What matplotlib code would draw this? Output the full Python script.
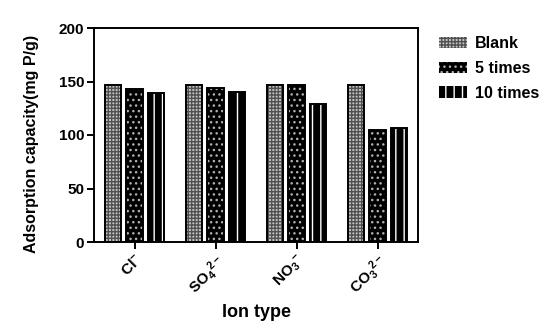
import matplotlib
matplotlib.use('Agg')
import matplotlib.pyplot as plt
import numpy as np

plt.rcParams['font.family'] = 'Liberation Sans'
plt.rcParams['font.weight'] = 'bold'
plt.rcParams['mathtext.fontset'] = 'custom'
plt.rcParams['mathtext.rm'] = 'Liberation Sans:bold'
plt.rcParams['mathtext.bf'] = 'Liberation Sans:bold'
plt.rcParams['mathtext.it'] = 'Liberation Sans:bold'
plt.rcParams['hatch.linewidth'] = 1.0

ions = [r'Cl$^{-}$', r'SO$_4$$^{2-}$', r'NO$_3$$^{-}$', r'CO$_3$$^{2-}$']
series = ['Blank', '5 times', '10 times']
blank = [146.5, 146.5, 146.5, 146.5]
times5 = [143, 143.5, 146.5, 104.5]
times10 = [139, 140.5, 129, 107]

x = np.arange(len(ions))
w = 0.2
off = 0.27

# fill style per series: face, hatch, hatch colour
styles = [('#c4c4c4', '+++++', '#505050'),
          ('black', '...', '#b0b0b0'),
          ('black', '||', 'white')]

fig = plt.figure(figsize=(5.54, 3.35), dpi=100)
ax = fig.add_axes([94/554, 1 - 242/335, 324/554, 214/335])

for vals, dx, (face, hatch, hc) in zip([blank, times5, times10], [-off, 0, off], styles):
    ax.bar(x + dx, vals, w, color=face, edgecolor=hc, hatch=hatch, linewidth=0)
    ax.bar(x + dx, vals, w, fill=False, edgecolor='black', linewidth=1.4)

ax.set_xlim(-0.5, 3.5)
ax.set_ylim(0, 200)
ax.set_yticks([0, 50, 100, 150, 200])
ax.set_xticks(x)
ax.set_xticklabels(ions, rotation=45, ha='right', rotation_mode='anchor', fontsize=11)
ax.tick_params(axis='y', labelsize=11, width=1.4, length=5, pad=2)
ax.tick_params(axis='x', width=1.4, length=5, pad=2)
for s in ax.spines.values():
    s.set_linewidth(1.4)

ax.set_ylabel('Adsorption capacity(mg P/g)', fontsize=11.5, fontweight='bold', labelpad=8)
ax.yaxis.set_label_coords(-0.17, 0.46)
ax.set_xlabel('Ion type', fontsize=13, fontweight='bold', labelpad=4)

handles = [matplotlib.patches.Rectangle((0, 0), 1, 1, facecolor=face, edgecolor=hc,
                                        hatch=hatch, linewidth=0)
           for face, hatch, hc in styles]
fig.legend(handles, series, loc='upper left', bbox_to_anchor=(425/554, 1 - 22/335),
           frameon=False, handlelength=1.7, handleheight=0.7,
           handletextpad=0.5, labelspacing=0.6, prop={'weight': 'bold', 'size': 11.5})

fig.savefig('out.png', dpi=100)
